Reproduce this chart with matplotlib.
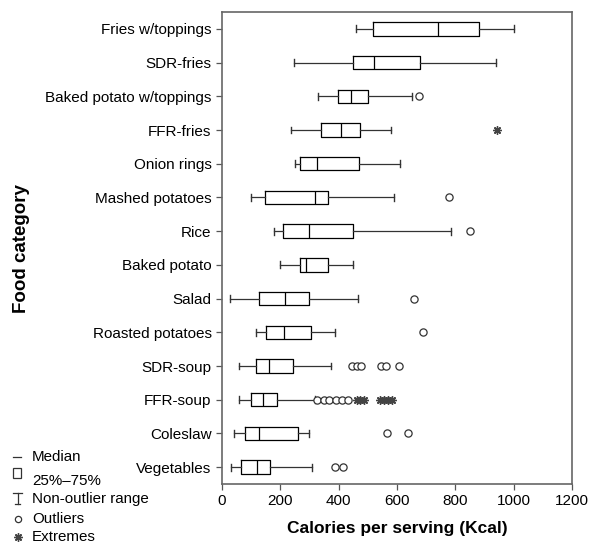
import numpy as np
import matplotlib
matplotlib.use("Agg")
import matplotlib.pyplot as plt
from matplotlib.lines import Line2D
from matplotlib.patches import Rectangle

plt.rcParams['font.family'] = ['Liberation Sans', 'DejaVu Sans']

# datos (kcal por porcion)
categorias = ["Fries w/toppings", "SDR-fries", "Baked potato w/toppings", "FFR-fries",
              "Onion rings", "Mashed potatoes", "Rice", "Baked potato", "Salad",
              "Roasted potatoes", "SDR-soup", "FFR-soup", "Coleslaw", "Vegetables"]
bigote_inf = [458, 248, 329, 238, 249, 99, 178, 199, 29, 118, 57, 57, 40, 32]
q1 = [519, 449, 399, 338, 269, 147, 208, 269, 128, 152, 117, 98, 78, 66]
mediana = [740, 522, 443, 409, 325, 318, 298, 287, 217, 211, 160, 139, 128, 119]
q3 = [880, 680, 499, 474, 470, 365, 449, 362, 299, 304, 245, 189, 261, 163]
bigote_sup = [1001, 940, 650, 579, 610, 590, 785, 449, 466, 387, 373, 319, 299, 307]
outliers = [[], [], [676], [], [], [779], [850], [], [659], [690],
            [445, 462, 478, 545, 562, 608],
            [327, 348, 368, 391, 411, 432],
            [567, 639], [387, 415]]
extremos = [[], [], [], [942], [], [], [], [], [], [], [],
            [462, 474, 486, 543, 556, 569, 582], [], []]
xticks = [0, 200, 400, 600, 800, 1000, 1200]

W, H = 591, 544
fig = plt.figure(figsize=(W / 100, H / 100), dpi=100)
ax = fig.add_axes([222 / W, (H - 484) / H, 350 / W, 472 / H])

pos = np.arange(1, len(categorias) + 1)
stats = []
for i in range(len(categorias)):
    stats.append({'med': mediana[i], 'q1': q1[i], 'q3': q3[i],
                  'whislo': bigote_inf[i], 'whishi': bigote_sup[i],
                  'fliers': outliers[i]})

ax.bxp(stats, positions=pos, vert=False, widths=0.4, capwidths=0.2,
       boxprops=dict(color='black', linewidth=0.9),
       medianprops=dict(color='black', linewidth=0.9),
       whiskerprops=dict(color='#333333', linewidth=0.9),
       capprops=dict(color='#333333', linewidth=1.0),
       flierprops=dict(marker='o', markerfacecolor='white', markeredgecolor='#333333',
                       markersize=5.2, markeredgewidth=0.9))

estilo_ext = dict(linestyle='none', marker=(8, 2, 0), markersize=6,
                  markeredgewidth=1.0, color='#444444')
for i, ext in enumerate(extremos):
    if ext:
        ax.plot(ext, [pos[i]] * len(ext), **estilo_ext)

ax.set_ylim(len(categorias) + 0.5, 0.5)
ax.set_xlim(0, 1200)
ax.set_yticks(pos)
ax.set_yticklabels(categorias, fontsize=11)
ax.set_xticks(xticks)
ax.set_xticklabels([str(t) for t in xticks], fontsize=11)
ax.tick_params(direction='out', length=4, color='#555555', width=0.9)
for s in ax.spines.values():
    s.set_color('#666666')
    s.set_linewidth(1.2)

ax.set_xlabel('Calories per serving (Kcal)', fontsize=12.5, fontweight='bold', labelpad=9)
fig.text(22 / W, 1 - 249 / H, 'Food category', rotation=90, fontsize=13.5,
         fontweight='bold', ha='center', va='center')

# leyenda manual abajo a la izquierda
def px(x, y):
    return x / W, 1 - y / H

def linea(x0, y0, x1, y1, lw=0.9):
    a, b = px(x0, y0)
    c, d = px(x1, y1)
    fig.add_artist(Line2D([a, c], [b, d], transform=fig.transFigure, color='#333333', lw=lw))

linea(13, 457, 21, 457)
bx, by = px(13, 478)
fig.add_artist(Rectangle((bx, by), 8 / W, 10 / H, transform=fig.transFigure,
                         fill=False, edgecolor='#333333', lw=0.9))
linea(13, 493, 22, 493)
linea(17.5, 493, 17.5, 504)
linea(15, 504, 20, 504)
mx, my = px(17.5, 519)
fig.add_artist(Line2D([mx], [my], transform=fig.transFigure, marker='o', markersize=4.5,
                      markerfacecolor='white', markeredgecolor='#333333', markeredgewidth=0.9))
ex, ey = px(17.5, 537)
fig.add_artist(Line2D([ex], [ey], transform=fig.transFigure, **estilo_ext))

etiquetas = [('Median', 457), ('25%\u201375%', 481), ('Non-outlier range', 499),
             ('Outliers', 519), ('Extremes', 537)]
for txt, y in etiquetas:
    tx, ty = px(32, y)
    fig.text(tx, ty, txt, fontsize=10.9, ha='left', va='center')

fig.savefig('out.png', dpi=100)
